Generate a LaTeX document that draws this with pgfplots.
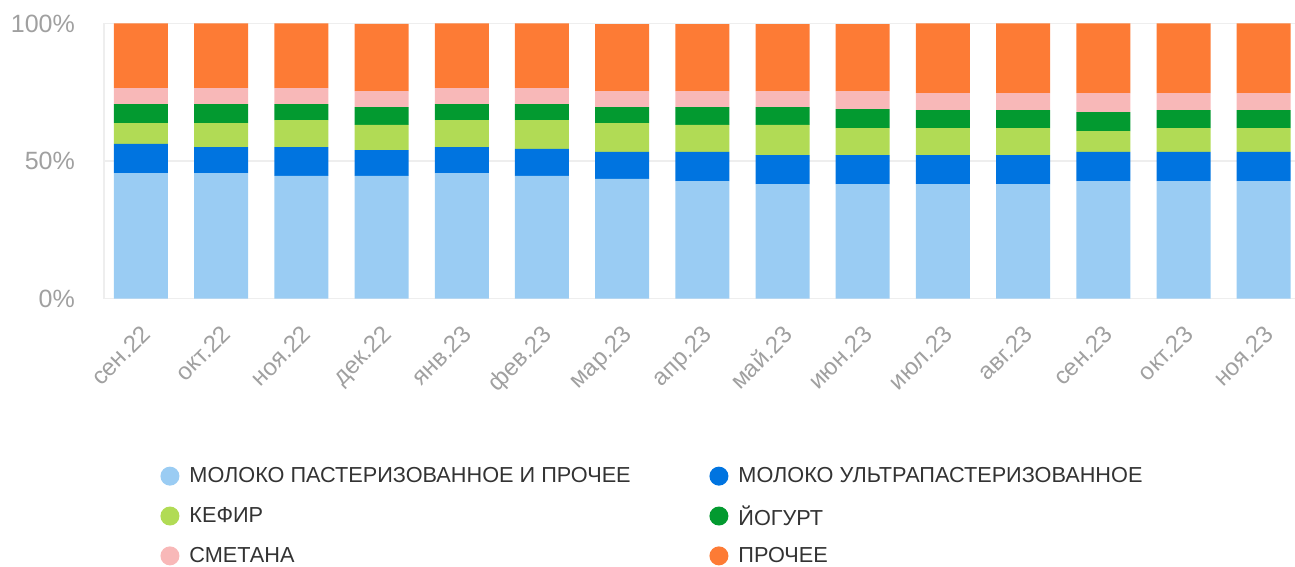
\documentclass[border=0pt]{standalone}
\usepackage{fontspec}
\setmainfont{Liberation Sans}
\usepackage{pgfplots}
\pgfplotsset{compat=1.18}
\definecolor{cLB}{HTML}{9ACCF3}
\definecolor{cB}{HTML}{0074E0}
\definecolor{cK}{HTML}{B1DB55}
\definecolor{cY}{HTML}{039A30}
\definecolor{cS}{HTML}{F8B8B8}
\definecolor{cO}{HTML}{FD7B35}
\definecolor{gridc}{HTML}{EEEEEE}
\definecolor{tickc}{HTML}{A0A0A0}
\definecolor{legc}{HTML}{333333}
\begin{document}
\begin{tikzpicture}
\useasboundingbox (-104pt,-267.3pt) rectangle (1191pt,298.7pt);
\begin{axis}[
  at={(0pt,0pt)}, anchor=south west,
  scale only axis, width=1191pt, height=275.3pt,
  ybar stacked, bar width=54pt,
  xmin=-0.461, xmax=14.39, ymin=0, ymax=100,
  xtick={0,...,14},
  xticklabels={сен.22,окт.22,ноя.22,дек.22,янв.23,фев.23,мар.23,апр.23,май.23,июн.23,июл.23,авг.23,сен.23,окт.23,ноя.23},
  ytick={0,50,100}, yticklabels={0\%,50\%,100\%},
  major tick length=0pt,
  axis lines*=left, axis line style={-, draw=gridc, line width=1.5pt},
  x axis line style={draw=none},
  ymajorgrids, grid style={draw=gridc, line width=1.5pt},
  yticklabel style={font=\fontsize{25}{25}\selectfont, text=tickc, anchor=east, inner sep=0pt, xshift=-29pt},
  xticklabel style={font=\fontsize{24}{24}\selectfont, text=tickc, rotate=45, anchor=north east, inner sep=0pt, yshift=-17pt, xshift=-18.3pt},
  legend columns=2,
  legend cell align=left,
  legend style={draw=none, fill=none, at={(0.0474,-0.607)}, anchor=north west, inner sep=0pt, outer sep=0pt,
    font=\fontsize{21.7}{21.7}\selectfont, text=legc,
    /tikz/every odd column/.append style={column sep=8pt},
    row sep=17pt},
  legend image code/.code={\fill[#1] (0pt,0pt) circle (9.5pt);},
]
\addplot+[draw=none, fill=cLB] coordinates {(0,45.6) (1,45.6) (2,44.6) (3,44.6) (4,45.6) (5,44.6) (6,43.5) (7,42.7) (8,41.6) (9,41.6) (10,41.6) (11,41.6) (12,42.7) (13,42.7) (14,42.7)};
\addplot+[draw=none, fill=cB] coordinates {(0,10.6) (1,9.5) (2,10.5) (3,9.4) (4,9.5) (5,9.8) (6,9.8) (7,10.6) (8,10.6) (9,10.6) (10,10.6) (11,10.6) (12,10.6) (13,10.6) (14,10.6)};
\addplot+[draw=none, fill=cK] coordinates {(0,7.6) (1,8.7) (2,9.8) (3,9.1) (4,9.8) (5,10.5) (6,10.5) (7,9.8) (8,10.9) (9,9.8) (10,9.8) (11,9.8) (12,7.6) (13,8.7) (14,8.7)};
\addplot+[draw=none, fill=cY] coordinates {(0,6.9) (1,6.9) (2,5.8) (3,6.5) (4,5.8) (5,5.8) (6,5.8) (7,6.5) (8,6.5) (9,6.9) (10,6.5) (11,6.5) (12,6.9) (13,6.5) (14,6.5)};
\addplot+[draw=none, fill=cS] coordinates {(0,5.8) (1,5.8) (2,5.8) (3,5.8) (4,5.8) (5,5.8) (6,5.8) (7,5.8) (8,5.8) (9,6.5) (10,6.2) (11,6.2) (12,6.9) (13,6.2) (14,6.2)};
\addplot+[draw=none, fill=cO] coordinates {(0,23.5) (1,23.5) (2,23.5) (3,24.4) (4,23.5) (5,23.5) (6,24.3) (7,24.3) (8,24.3) (9,24.3) (10,25.3) (11,25.3) (12,25.3) (13,25.3) (14,25.3)};
\addlegendentry{\makebox[518pt][l]{МОЛОКО ПАСТЕРИЗОВАННОЕ И ПРОЧЕЕ}}
\addlegendentry{МОЛОКО УЛЬТРАПАСТЕРИЗОВАННОЕ}
\addlegendentry{\makebox[518pt][l]{КЕФИР}}
\addlegendentry{ЙОГУРТ}
\addlegendentry{\makebox[518pt][l]{СМЕТАНА}}
\addlegendentry{ПРОЧЕЕ}
\end{axis}
\end{tikzpicture}
\end{document}
